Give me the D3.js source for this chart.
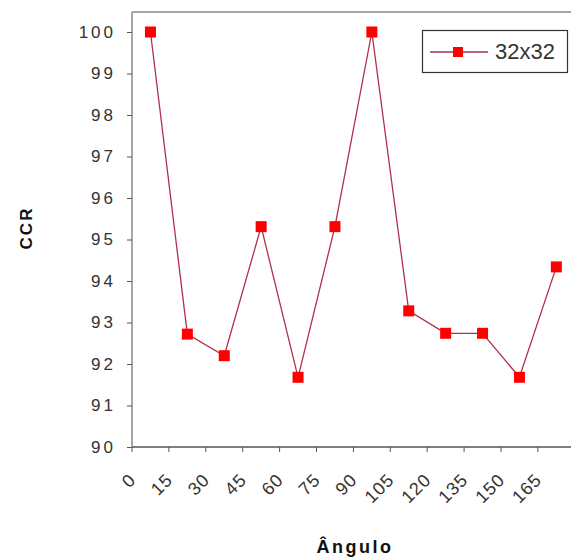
<!DOCTYPE html>
<html>
<head>
<meta charset="utf-8">
<script src="https://cdn.jsdelivr.net/npm/d3@7"></script>
<style>
  body { margin: 0; background: #fff; }
  svg { display: block; font-family: "Liberation Sans", Arial, sans-serif; }
</style>
</head>
<body>
<svg id="chart" width="571" height="559"></svg>
<script>
const angles = ['0', '15', '30', '45', '60', '75', '90', '105', '120', '135', '150', '165'];
const ccr = [100, 92.72, 92.2, 95.31, 91.68, 95.31, 100, 93.28, 92.74, 92.74, 91.68, 94.34];
const yTicks = [90, 91, 92, 93, 94, 95, 96, 97, 98, 99, 100];
const seriesName = '32x32';

const svg = d3.select('#chart');
const plotLeft = 132, plotTop = 12, plotBottom = 447, bandW = 36.9;

const x = d3.scaleBand().domain(angles).range([plotLeft, plotLeft + bandW * angles.length]);
const y = d3.scaleLinear().domain([90, 100]).range([plotBottom, 32]);

// frame: top border + left axis
svg.append('line')
  .attr('x1', plotLeft).attr('x2', 571).attr('y1', plotTop).attr('y2', plotTop)
  .attr('stroke', '#8a8a8a').attr('stroke-width', 1.5);

const yAxis = svg.append('g')
  .attr('transform', `translate(${plotLeft},0)`)
  .call(d3.axisLeft(y).tickValues(yTicks).tickSize(5).tickPadding(11).tickSizeOuter(0));
yAxis.select('.domain').attr('d', `M0,${plotTop}V${plotBottom}`).attr('stroke', '#8a8a8a').attr('stroke-width', 1.5);
yAxis.selectAll('.tick line').attr('stroke', '#555');
yAxis.selectAll('.tick text')
  .attr('fill', '#333').style('font-size', '17px').style('letter-spacing', '3px');

// bottom axis
const xg = svg.append('g');
xg.append('line')
  .attr('x1', plotLeft).attr('x2', 571).attr('y1', plotBottom).attr('y2', plotBottom)
  .attr('stroke', '#555').attr('stroke-width', 1.5);
xg.selectAll('line.tk').data(angles).join('line')
  .attr('class', 'tk')
  .attr('x1', d => x(d)).attr('x2', d => x(d))
  .attr('y1', plotBottom).attr('y2', plotBottom + 5)
  .attr('stroke', '#555');
xg.selectAll('text').data(angles).join('text')
  .attr('transform', d => `translate(${x(d) + 5},${plotBottom + 34}) rotate(-45)`)
  .attr('text-anchor', 'end')
  .attr('fill', '#333')
  .style('font-size', '18px')
  .style('letter-spacing', '1px')
  .text(d => d);

// axis titles
svg.append('text')
  .attr('transform', 'translate(32,228) rotate(-90)')
  .attr('text-anchor', 'middle')
  .style('font-size', '17px').style('font-weight', 'bold').style('letter-spacing', '2px')
  .attr('fill', '#111')
  .text('CCR');
svg.append('text')
  .attr('x', 355).attr('y', 553)
  .attr('text-anchor', 'middle')
  .style('font-size', '18px').style('font-weight', 'bold').style('letter-spacing', '2.5px')
  .attr('fill', '#111')
  .text('Ângulo');

// series
const cx = d => x(d) + x.bandwidth() / 2;
const line = d3.line().x((d, i) => cx(angles[i])).y(d => y(d));
svg.append('path')
  .datum(ccr)
  .attr('d', line)
  .attr('fill', 'none')
  .attr('stroke', '#b0304a')
  .attr('stroke-width', 1.3);

const ms = 11;
svg.selectAll('rect.pt').data(ccr).join('rect')
  .attr('class', 'pt')
  .attr('x', (d, i) => cx(angles[i]) - ms / 2)
  .attr('y', d => y(d) - ms / 2)
  .attr('width', ms).attr('height', ms)
  .attr('fill', '#ff0000');

// legend
const lg = svg.append('g');
lg.append('rect')
  .attr('x', 422.5).attr('y', 30.5).attr('width', 145).attr('height', 42)
  .attr('fill', '#fff').attr('stroke', '#333').attr('stroke-width', 1.2);
lg.append('line')
  .attr('x1', 430).attr('x2', 488).attr('y1', 52).attr('y2', 52)
  .attr('stroke', '#b0304a').attr('stroke-width', 1.3);
lg.append('rect')
  .attr('x', 458 - 5).attr('y', 52 - 5).attr('width', 10).attr('height', 10)
  .attr('fill', '#ff0000');
lg.append('text')
  .attr('x', 495).attr('y', 59)
  .attr('fill', '#333')
  .style('font-size', '22px')
  .text(seriesName);
</script>
</body>
</html>
